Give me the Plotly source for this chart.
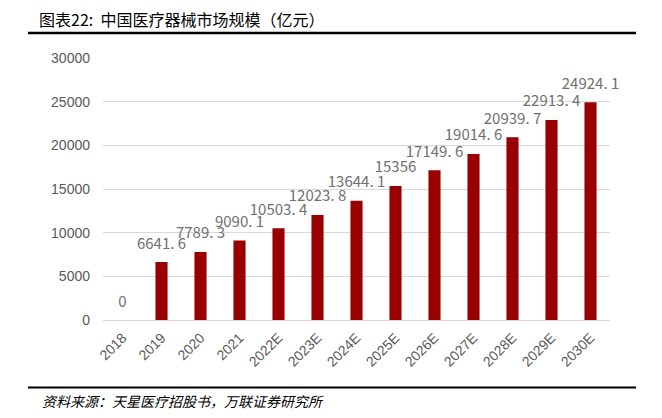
import plotly.graph_objects as go

years = ["2018", "2019", "2020", "2021", "2022E", "2023E", "2024E", "2025E",
         "2026E", "2027E", "2028E", "2029E", "2030E"]
values = [0, 6641.6, 7789.3, 9090.1, 10503.4, 12023.8, 13644.1, 15356,
          17149.6, 19014.6, 20939.7, 22913.4, 24924.1]
labels = ["0", "6641. 6", "7789. 3", "9090. 1", "10503. 4", "12023. 8", "13644. 1",
          "15356", "17149. 6", "19014. 6", "20939. 7", "22913. 4", "24924. 1"]
y_ticks = [0, 5000, 10000, 15000, 20000, 25000, 30000]
y_tick_text = ["0", "5000", "10000", "15000", "20000", "25000", "30000"]

title_text = "图表22:  中国医疗器械市场规模（亿元）"
source_text = "资料来源：天星医疗招股书，万联证券研究所"

OFF = 8  # page body margin
W, H = 662 - OFF, 418 - OFF
L, T = 103 - OFF, 58 - OFF
R = W - (610 - OFF)
B = H - (320 - OFF)
pw = W - L - R
ph = H - T - B

def px_x(x):
    return (x - OFF - L) / pw

def px_y(y):
    return (H - B - (y - OFF)) / ph

fig = go.Figure()
fig.add_trace(go.Bar(
    x=years, y=values,
    marker=dict(color="#990000", line=dict(width=0)),
    width=0.31, hoverinfo="skip",
))
fig.add_trace(go.Scatter(
    x=years, y=values, mode="markers+text",
    marker=dict(size=14, color="rgba(0,0,0,0)"),
    text=labels, textposition="top center", cliponaxis=False,
    textfont=dict(family="Noto Sans CJK SC", size=15, color="#707070"),
))

fig.update_layout(
    width=W, height=H,
    margin=dict(l=L, r=R, t=T, b=B),
    paper_bgcolor="white", plot_bgcolor="white",
    showlegend=False,
    xaxis=dict(
        range=[-0.5, len(years) - 0.5],
        tickangle=-45, showgrid=False, showline=False, ticks="",
        ticklabelstandoff=6,
        tickfont=dict(family="Liberation Sans", size=14, color="#595959"),
    ),
    yaxis=dict(
        range=[0, 30000], tickvals=y_ticks, ticktext=y_tick_text, showgrid=True,
        gridcolor="#d9d9d9", gridwidth=1, zeroline=True, zerolinecolor="#d9d9d9",
        zerolinewidth=1, ticks="", ticklabelstandoff=12,
        tickfont=dict(family="Liberation Sans", size=14, color="#595959"),
    ),
    shapes=[
        dict(type="line", xref="paper", yref="paper", x0=px_x(28), x1=px_x(636),
             y0=px_y(5.5), y1=px_y(5.5), line=dict(color="black", width=2)),
        dict(type="line", xref="paper", yref="paper", x0=px_x(28), x1=px_x(636),
             y0=px_y(33), y1=px_y(33), line=dict(color="black", width=2.5)),
        dict(type="line", xref="paper", yref="paper", x0=px_x(28), x1=px_x(636),
             y0=px_y(387.5), y1=px_y(387.5), line=dict(color="black", width=2)),
    ],
    annotations=[
        dict(text=title_text, xref="paper", yref="paper", x=px_x(37), y=px_y(19),
             xanchor="left", yanchor="middle", showarrow=False,
             font=dict(family="Noto Sans CJK SC", size=16, color="black")),
        dict(text="<i>" + source_text + "</i>", xref="paper", yref="paper",
             x=px_x(40), y=px_y(401), xanchor="left", yanchor="middle", showarrow=False,
             font=dict(family="Noto Sans CJK SC", size=14, color="black")),
    ],
)

fig.write_html("out.html")
